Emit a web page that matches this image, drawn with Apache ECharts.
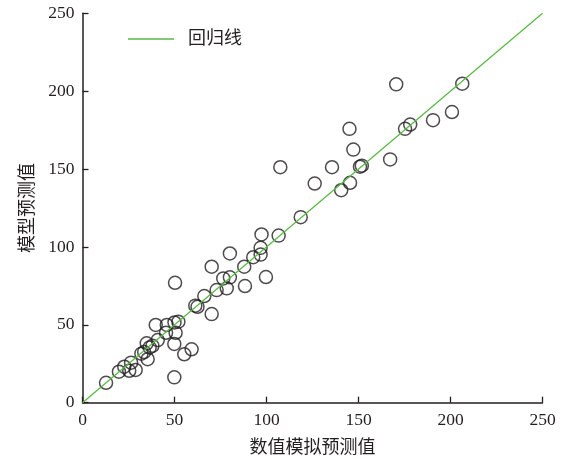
<!DOCTYPE html>
<html><head><meta charset="utf-8">
<script src="https://cdn.jsdelivr.net/npm/echarts@6/dist/echarts.min.js"></script>
<style>html,body{margin:0;padding:0;background:#fff}#c{width:561px;height:459px}</style>
</head><body><div id="c"></div>
<script>
var xTicks = [0, 50, 100, 150, 200, 250];
var yTicks = [0, 50, 100, 150, 200, 250];
var simulated = [12.8,19.8,22.7,25.4,26.4,28.9,32.0,33.5,35.4,34.9,36.5,38.0,40.9,39.8,45.8,45.4,50.6,50.0,52.1,49.9,55.3,59.3,49.9,50.3,61.3,62.5,66.2,70.2,72.9,76.5,78.4,80.1,70.2,80.1,88.3,87.9,92.8,96.8,96.8,97.3,99.7,106.6,118.6,107.5,126.2,135.6,140.6,145.4,150.8,151.8,147.2,145.1,170.5,167.2,175.3,178.1,190.5,200.8,206.4];
var predicted = [12.8,19.9,23.1,20.5,25.7,21.0,31.5,32.5,27.9,38.1,35.5,36.5,40.2,49.9,49.9,44.9,44.9,51.5,52.0,37.7,31.1,34.3,16.3,77.0,62.3,61.6,68.5,56.9,72.3,79.8,73.4,80.5,87.3,95.8,74.9,87.3,93.4,95.1,99.4,108.0,80.7,107.3,119.1,151.2,140.7,151.2,136.4,141.2,151.5,152.2,162.5,175.8,204.4,156.2,175.8,178.6,181.4,186.6,204.8];
var regLine = [[0, 0], [250, 250]];
var points = simulated.map(function (x, i) { return [x, predicted[i]]; });
var serif = "'Liberation Serif','Noto Sans CJK SC',serif";
var ink = '#231f20';
var chart = echarts.init(document.getElementById('c'));
function axis(name, ticks, gap, margin) {
  return {
    type: 'value', min: ticks[0], max: ticks[ticks.length - 1], interval: ticks[1] - ticks[0],
    name: name, nameLocation: 'middle', nameGap: gap,
    nameTextStyle: { fontFamily: serif, fontSize: 18, color: ink },
    axisLine: { show: true, lineStyle: { color: ink, width: 1.5 } },
    axisTick: { show: true, inside: true, length: 6, lineStyle: { color: ink, width: 1.3 } },
    axisLabel: { fontFamily: serif, fontSize: 17.5, color: ink, margin: margin },
    splitLine: { show: false }
  };
}
chart.setOption({
  animation: false,
  grid: { left: 82.5, right: 18.5, top: 13.3, bottom: 56.3, containLabel: false, outerBoundsMode: 'none' },
  legend: {
    left: 123, top: 25, icon: 'rect', itemWidth: 46, itemHeight: 1.5,
    data: ['回归线'],
    textStyle: { fontFamily: serif, fontSize: 18, color: ink, padding: [0, 0, 0, 9] }
  },
  xAxis: axis('数值模拟预测值', xTicks, 37, 9),
  yAxis: axis('模型预测值', yTicks, 44, 8),
  series: [
    { name: '回归线', type: 'line', data: regLine, symbol: 'none', silent: true,
      lineStyle: { color: '#5ab946', width: 1.3 }, itemStyle: { color: '#5ab946' }, z: 3 },
    { name: '观测', type: 'scatter', data: points, symbol: 'circle', symbolSize: 13,
      itemStyle: { color: 'rgba(0,0,0,0)', borderColor: ink, borderWidth: 1.5 }, z: 2 }
  ]
});
</script></body></html>
